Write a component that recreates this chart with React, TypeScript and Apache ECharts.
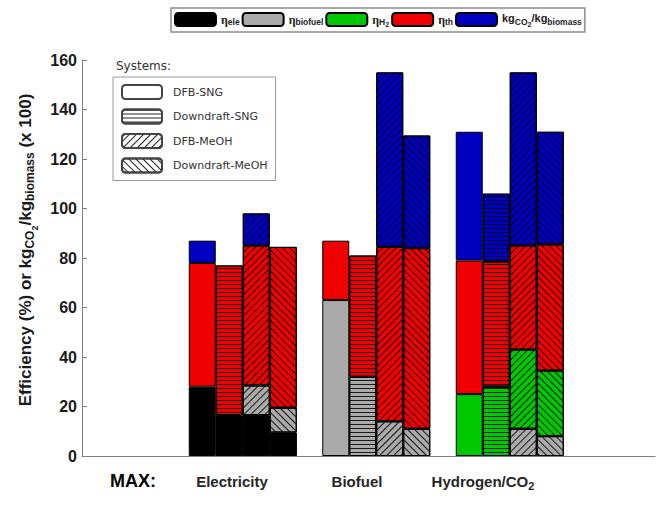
import React, { useEffect, useRef } from 'react';
import * as echarts from 'echarts';

// ---- data ----
const groups = ['Electricity', 'Biofuel', 'Hydrogen/CO2'];
const systems = ['DFB-SNG', 'Downdraft-SNG', 'DFB-MeOH', 'Downdraft-MeOH'];
const axisCategoryLabels = ['MAX:', 'Electricity', 'Biofuel', 'Hydrogen/CO2'];
const yTickStep = 20;
const yMax = 160;

// each row: one system; columns: Electricity, Biofuel, Hydrogen/CO2
const etaEle = [
  [28, 0, 0],
  [16.5, 0, 0],
  [16.5, 0, 0],
  [9.5, 0, 0],
];
const etaBiofuel = [
  [0, 63, 0],
  [0, 32, 0],
  [12, 14, 11],
  [10, 11, 8],
];
const etaH2 = [
  [0, 0, 25],
  [0, 0, 28],
  [0, 0, 32],
  [0, 0, 26.5],
];
const etaTh = [
  [50, 24, 54],
  [60.5, 49, 50.5],
  [56.5, 70.5, 42],
  [65, 73, 51],
];
const kgCO2 = [
  [9, 0, 52],
  [0, 0, 27.5],
  [13, 70.5, 70],
  [0, 45.5, 45.5],
];

const componentKeys = ['ele', 'biofuel', 'H2', 'th', 'CO2'];
const componentData = [etaEle, etaBiofuel, etaH2, etaTh, kgCO2];
const componentColors = ['#000000', '#aaaaaa', '#00c800', '#f00000', '#0000c0'];

const FONT = 'Liberation Sans';

function hatch(kind: string): any {
  if (kind === 'none') return null;
  if (kind === 'h') {
    return {
      symbol: 'rect', symbolSize: 1, dashArrayX: [1, 0], dashArrayY: [1, 3],
      rotation: 0, color: 'rgba(0,0,0,0.85)', backgroundColor: null,
    };
  }
  return {
    symbol: 'rect', symbolSize: 1, dashArrayX: [1, 0], dashArrayY: [1, 4],
    rotation: kind === 'fwd' ? -Math.PI / 4 : Math.PI / 4,
    color: 'rgba(0,0,0,0.85)', backgroundColor: null,
  };
}
const systemHatch = ['none', 'h', 'fwd', 'back'];

const legendFmt: Record<string, string> = {
  ele: '{eta|η}{sub|ele}',
  biofuel: '{eta|η}{sub|biofuel}',
  H2: '{eta|η}{sub|H}{ss|2}',
  th: '{eta|η}{sub|th}',
  CO2: '{kg|kg}{sub|CO}{ss|2}{kg|/kg}{sub|biomass}',
};

export default function App() {
  const ref = useRef<HTMLDivElement>(null);
  useEffect(() => {
    document.body.style.margin = '0';
    const chart = echarts.init(ref.current!, null, { renderer: 'svg' });

    const series: any[] = [];
    componentKeys.forEach((key, ci) => {
      systems.forEach((sys, si) => {
        series.push({
          type: 'bar',
          name: key,
          stack: sys,
          xAxisIndex: 1,
          yAxisIndex: 1,
          barWidth: 27,
          barGap: '0%',
          data: componentData[ci][si].map((v) => (v === 0 ? '-' : v)),
          itemStyle: {
            color: componentColors[ci],
            borderColor: '#000',
            borderWidth: 1,
            decal: hatch(systemHatch[si]),
          },
          emphasis: { disabled: true },
        });
      });
    });
    systems.forEach((sys, si) => {
      series.push({
        type: 'bar',
        name: sys,
        xAxisIndex: 2,
        yAxisIndex: 2,
        data: [],
        itemStyle: {
          color: '#ffffff',
          borderColor: '#444',
          borderWidth: 1,
          decal: hatch(systemHatch[si]),
        },
      });
    });

    const labelX = [133, 232, 357, 483];
    const graphic: any[] = axisCategoryLabels.map((t, i) => ({
      type: 'text',
      x: labelX[i],
      y: 481,
      style: {
        text: i === 3 ? 'Hydrogen/CO{s|2}' : t,
        fill: i === 0 ? '#000' : '#262626',
        fontSize: i === 0 ? 18 : 15,
        fontWeight: 'bold',
        fontFamily: FONT,
        align: 'center',
        verticalAlign: 'middle',
        textAlign: 'center',
        textVerticalAlign: 'middle',
        rich: {
          s: { fontSize: 11, fontWeight: 'bold', fontFamily: FONT, fill: '#262626', padding: [10, 0, 0, 0] },
        },
      },
    }));
    graphic.push({
      type: 'text',
      x: 116,
      y: 66,
      style: {
        text: 'Systems:',
        fill: '#333',
        fontSize: 12,
        fontFamily: 'DejaVu Sans',
        align: 'left',
        verticalAlign: 'middle',
        textAlign: 'left',
        textVerticalAlign: 'middle',
      },
    });

    chart.setOption({
      animation: false,
      grid: [
        { left: 82, right: 10, top: 60, bottom: 59 },
        { left: 176, right: 88.5, top: 60, bottom: 59 },
        { left: 0, top: 0, width: 1, height: 1, show: false },
      ],
      xAxis: [
        {
          gridIndex: 0, type: 'value', min: 0, max: 1,
          axisLine: { show: true, lineStyle: { color: '#808080', width: 1 } },
          axisTick: { show: false }, axisLabel: { show: false }, splitLine: { show: false },
        },
        { gridIndex: 1, type: 'category', data: groups, show: false },
        { gridIndex: 2, type: 'category', data: ['x'], show: false },
      ],
      yAxis: [
        {
          gridIndex: 0, type: 'value', min: 0, max: yMax, interval: yTickStep,
          axisLine: { show: true, lineStyle: { color: '#808080', width: 1 } },
          axisTick: { show: true, inside: true, length: 5, lineStyle: { color: '#808080' } },
          axisLabel: { color: '#1a1a1a', fontSize: 16, fontWeight: 'bold', fontFamily: FONT, margin: 5 },
          splitLine: { show: false },
          name: 'Efficiency (%) or kg{sub|CO}{ss|2}/kg{sub|biomass} (x 100)',
          nameLocation: 'middle',
          nameRotate: 90,
          nameGap: 37,
          nameTextStyle: {
            color: '#1a1a1a', fontSize: 17, fontWeight: 'bold', fontFamily: FONT,
            padding: [0, 0, 0, 16],
            rich: {
              sub: { color: '#1a1a1a', fontSize: 12, fontWeight: 'bold', fontFamily: FONT, padding: [9, 0, 0, 0] },
              ss: { color: '#1a1a1a', fontSize: 9, fontWeight: 'bold', fontFamily: FONT, padding: [18, 0, 0, 0] },
            },
          },
        },
        { gridIndex: 1, type: 'value', min: 0, max: yMax, show: false },
        { gridIndex: 2, type: 'value', show: false },
      ],
      legend: [
        {
          data: componentKeys,
          left: 171, top: 8,
          orient: 'horizontal',
          itemWidth: 41, itemHeight: 13, itemGap: 2,
          padding: [4, 3, 4, 3],
          borderColor: '#8c8c8c', borderWidth: 1.5,
          selectedMode: false,
          formatter: (n: string) => legendFmt[n],
          textStyle: {
            color: '#222', fontFamily: FONT, fontSize: 11, fontWeight: 'bold',
            rich: {
              eta: { fontFamily: 'Liberation Serif', fontSize: 12, color: '#222' },
              sub: { fontFamily: FONT, fontSize: 8.5, fontWeight: 'bold', color: '#222', padding: [5, 0, 0, 0] },
              ss: { fontFamily: FONT, fontSize: 7, fontWeight: 'bold', color: '#222', padding: [10, 0, 0, 0] },
              kg: { fontFamily: FONT, fontSize: 11, fontWeight: 'bold', color: '#222', padding: [0, 0, 3, 0] },
            },
          },
        },
        {
          data: systems,
          orient: 'vertical',
          left: 113, top: 77,
          itemWidth: 40, itemHeight: 14, itemGap: 8.5,
          padding: [7, 8, 7, 8],
          borderColor: '#999', borderWidth: 1,
          selectedMode: false,
          textStyle: { color: '#333', fontFamily: 'DejaVu Sans', fontSize: 11, padding: [0, 0, 0, 6] },
        },
      ],
      graphic,
      series,
    });
    return () => chart.dispose();
  }, []);
  return <div ref={ref} style={{ width: 665, height: 515 }} />;
}
